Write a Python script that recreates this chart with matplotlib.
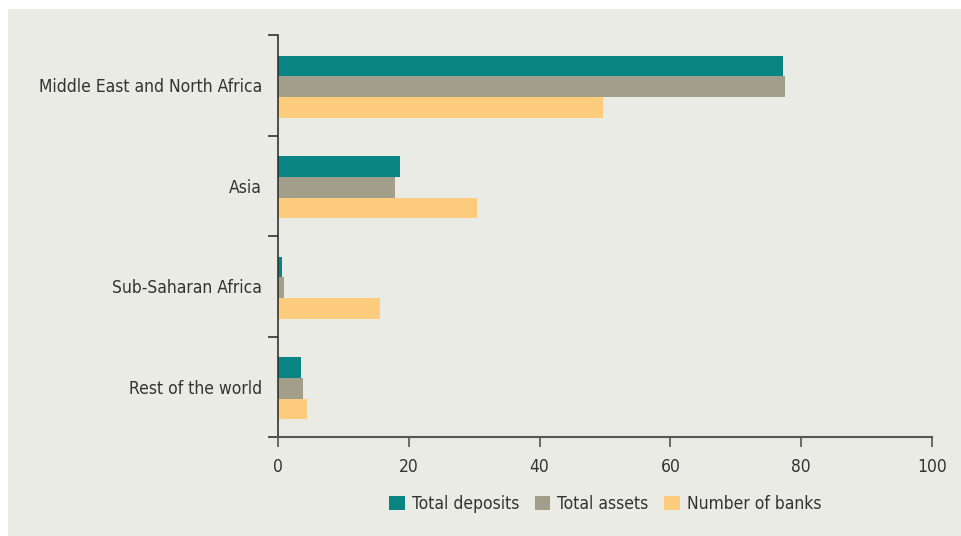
import numpy as np
import matplotlib
matplotlib.use('Agg')
import matplotlib.pyplot as plt
from matplotlib.patches import Rectangle

# Data
regions = ['Middle East and North Africa', 'Asia', 'Sub-Saharan Africa', 'Rest of the world']
total_deposits = [77.2, 18.7, 0.6, 3.5]
total_assets = [77.5, 17.9, 0.9, 3.8]
number_of_banks = [49.7, 30.4, 15.6, 4.4]
x_ticks = [0, 20, 40, 60, 80, 100]

bg = '#EBEBE5'
txt = '#333333'
plt.rcParams['font.family'] = ['DejaVu Sans']
plt.rcParams['font.stretch'] = 'condensed'

fig = plt.figure(figsize=(9.62, 5.36), dpi=100)
fig.patch.set_facecolor('white')
fig.patches.append(Rectangle((8 / 962, 0), 1, 1 - 9 / 536, transform=fig.transFigure,
                             facecolor=bg, edgecolor='none', zorder=-1))

ax = fig.add_axes([278 / 962, 1 - 437 / 536, (932 - 278) / 962, (437 - 35) / 536])
ax.set_facecolor(bg)

y = np.arange(len(regions)) + 0.015
h = 0.206
ax.barh(y - h, total_deposits, height=h, color='#088583', label='Total deposits')
ax.barh(y, total_assets, height=h, color='#A39E8A', label='Total assets')
ax.barh(y + h, number_of_banks, height=h, color='#FDCC7D', label='Number of banks')

ax.set_xlim(0, 100)
ax.set_ylim(len(regions) - 0.5, -0.5)

# boundary ticks as major, labels as minor
ax.set_yticks(np.arange(len(regions) + 1) - 0.5)
ax.set_yticklabels([])
ax.set_yticks(np.arange(len(regions)), minor=True)
ax.set_yticklabels(regions, minor=True, fontsize=12.5, color=txt)
ax.tick_params(axis='y', which='major', length=7, width=1.2, color='#333333')
ax.tick_params(axis='y', which='minor', length=0, pad=11.5)

ax.set_xticks(x_ticks)
ax.set_xticklabels([str(v) for v in x_ticks], fontsize=12.5, color=txt)
ax.tick_params(axis='x', length=7, width=1.2, color='#555555', pad=8)

for s in ['top', 'right']:
    ax.spines[s].set_visible(False)
ax.spines['left'].set_color('#333333')
ax.spines['left'].set_linewidth(1.2)
ax.spines['bottom'].set_color('#555555')
ax.spines['bottom'].set_linewidth(1.5)

leg = fig.legend(loc='center', bbox_to_anchor=(605 / 962, 1 - 504 / 536), ncol=3,
                 frameon=False, fontsize=12.5, handlelength=0.9, handleheight=0.9,
                 handletextpad=0.4, columnspacing=0.9)
for t in leg.get_texts():
    t.set_color(txt)

fig.savefig('out.png', dpi=100, facecolor=fig.get_facecolor())
